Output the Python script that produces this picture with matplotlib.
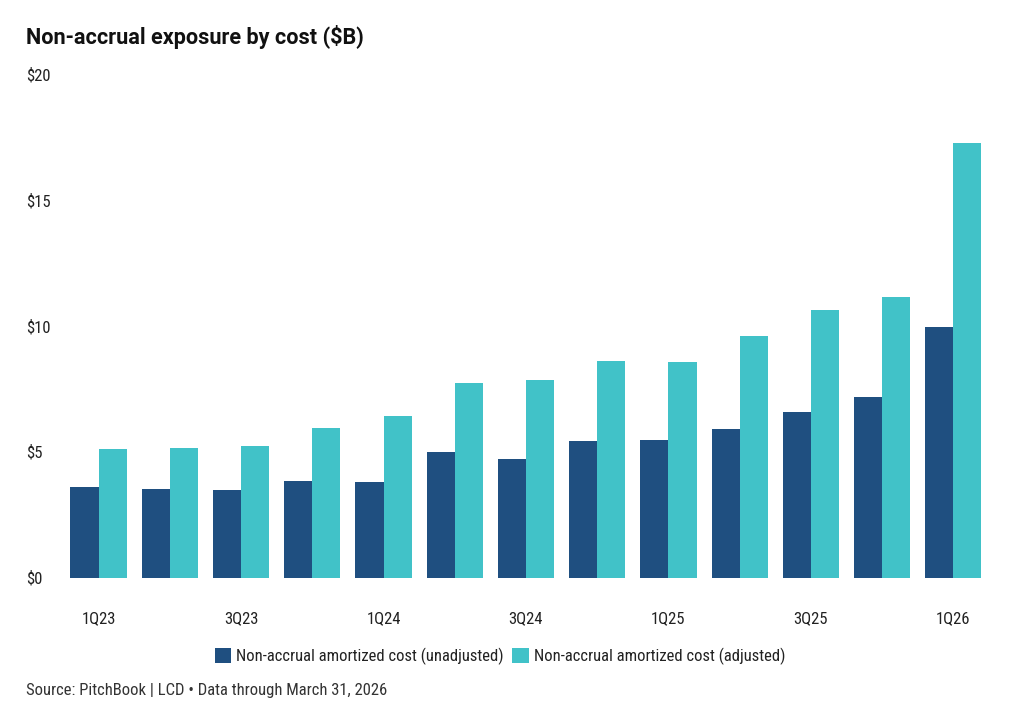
import matplotlib
matplotlib.use("Agg")
import matplotlib.pyplot as plt
from matplotlib import font_manager
import numpy as np

# datos
quarters = ["1Q23", "2Q23", "3Q23", "4Q23", "1Q24", "2Q24", "3Q24",
            "4Q24", "1Q25", "2Q25", "3Q25", "4Q25", "1Q26"]
unadjusted = [3.59, 3.53, 3.47, 3.85, 3.80, 4.98, 4.70,
              5.41, 5.46, 5.90, 6.58, 7.16, 9.95]
adjusted = [5.10, 5.15, 5.21, 5.95, 6.40, 7.73, 7.85,
            8.61, 8.56, 9.58, 10.61, 11.14, 17.25]
y_ticks = [0, 5, 10, 15, 20]
y_labels = ["$0", "$5", "$10", "$15", "$20"]

dark = "#1f4f80"
light = "#41c2c8"

# fuente condensada si existe
names = {f.name for f in font_manager.fontManager.ttflist}
narrow = "Roboto"
for cand in ["Roboto Condensed", "Liberation Sans Narrow"]:
    if cand in names:
        narrow = cand
        break

fig = plt.figure(figsize=(10.24, 7.21), dpi=100)
ax = fig.add_axes([0.0615, 0.1988, 0.9043, 0.6986])

x = np.arange(len(quarters))
w = 0.395
ax.bar(x - w / 2, unadjusted, w, color=dark, label="Non-accrual amortized cost (unadjusted)")
ax.bar(x + w / 2, adjusted, w, color=light, label="Non-accrual amortized cost (adjusted)")

ax.set_xlim(-0.5, len(quarters) - 0.5)
ax.set_ylim(0, 20)
for s in ax.spines.values():
    s.set_visible(False)

ax.set_yticks(y_ticks)
ax.set_yticklabels(y_labels, fontfamily=narrow, fontsize=12, color="#222222")
for lab in ax.get_yticklabels():
    lab.set_horizontalalignment("left")
ax.tick_params(axis="y", length=0, pad=26.6)

ax.set_xticks(x[::2])
ax.set_xticklabels(quarters[::2], fontfamily=narrow, fontsize=12, color="#222222")
ax.tick_params(axis="x", length=0, pad=24)

fig.text(26 / 1024, 1 - 37 / 721, "Non-accrual exposure by cost ($B)",
         fontfamily="Roboto", fontweight="bold", fontsize=15.6, color="#111111",
         ha="left", va="center")

fig.legend(loc="center", bbox_to_anchor=(500 / 1024, 1 - 656 / 721), ncol=2,
           frameon=False, prop={"family": narrow, "size": 12},
           handlelength=1.0, handleheight=1.0, handletextpad=0.3,
           columnspacing=0.5, labelcolor="#222222")

fig.text(26 / 1024, 1 - 690 / 721, "Source: PitchBook | LCD \u2022 Data through March 31, 2026",
         fontfamily=narrow, fontsize=12, color="#333333", ha="left", va="center")

fig.savefig("out.png", dpi=100)
